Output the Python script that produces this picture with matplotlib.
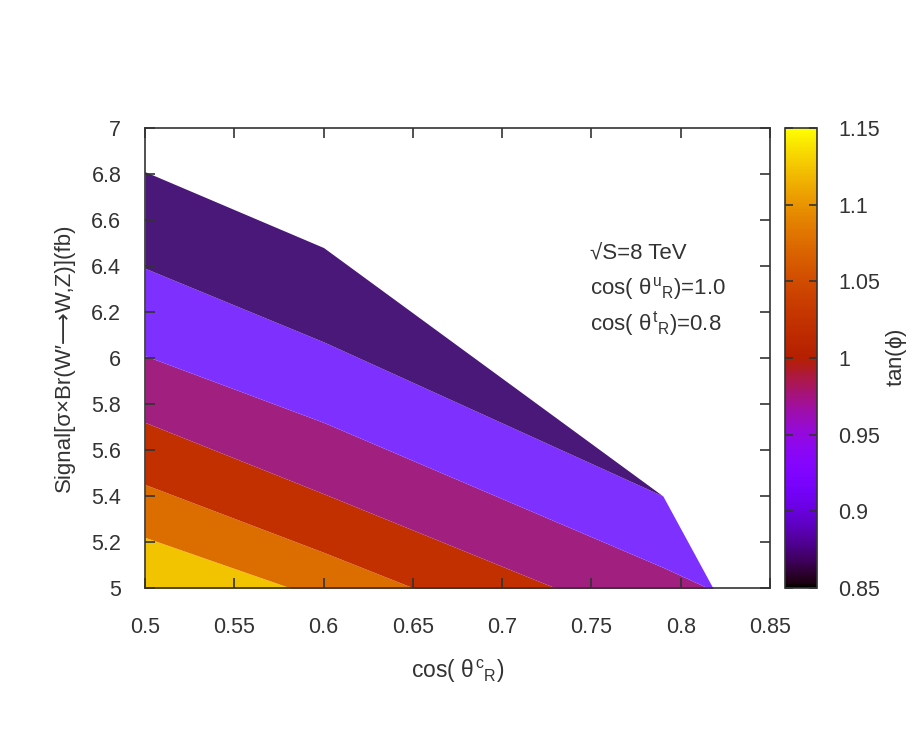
import numpy as np
import matplotlib
matplotlib.use("Agg")
import matplotlib.pyplot as plt
from matplotlib.colors import ListedColormap, Normalize
from matplotlib.cm import ScalarMappable
from matplotlib.ticker import FuncFormatter

plt.rcParams['font.family'] = ['Liberation Sans', 'DejaVu Sans']
plt.rcParams['mathtext.fontset'] = 'custom'
plt.rcParams['mathtext.rm'] = 'Liberation Sans'
plt.rcParams['mathtext.it'] = 'Liberation Sans'
plt.rcParams['mathtext.bf'] = 'Liberation Sans:bold'

# x nodes (cos theta^c_R) where the contour lines bend
x_nodes = [0.5, 0.6, 0.79, 0.818]
# upper edge of the data region
top_edge = [6.81, 6.48, 5.40, 5.00]
# contour lines of tan(phi), read at x_nodes
lvl_090 = [6.39, 6.07, 5.40, 5.00]
lvl_095 = [6.01, 5.72, 5.09, 4.99]
lvl_100 = [5.72, 5.41, 4.81, 4.72]
lvl_105 = [5.45, 5.155, 4.57, 4.48]
lvl_110 = [5.22, 4.95, 4.44, 4.36]
bottom_edge = [4.0, 4.0, 4.0, 4.0]

levels = [0.85, 0.9, 0.95, 1.0, 1.05, 1.1, 1.15]
# fill colours of the bands, lowest (yellow) first
band_colors = ['#f2c400', '#dc6e00', '#c23000', '#a1207f', '#7d30ff', '#4a1878']

# gnuplot rgbformulae 7,5,15 for the colour box
t = np.linspace(0, 1, 256)
pal = np.column_stack([np.sqrt(t), t ** 3, np.clip(np.sin(2 * np.pi * t), 0, 1)])
cmap = ListedColormap(pal)
norm = Normalize(0.85, 1.15)

txt = '#333333'
fig = plt.figure(figsize=(9.13, 7.47), dpi=100)
ax = fig.add_axes([0.1588, 0.2129, 0.6846, 0.6158])

xs = np.array(x_nodes)
top = np.array(top_edge)
bounds = [bottom_edge, lvl_110, lvl_105, lvl_100, lvl_095, lvl_090, top_edge]
for i in range(6):
    lo = np.minimum(np.array(bounds[i]), top)
    hi = np.minimum(np.array(bounds[i + 1]), top)
    ax.fill_between(xs, lo, hi, color=band_colors[i], lw=0)

ax.set_xlim(0.5, 0.85)
ax.set_ylim(5, 7)
ax.set_xticks(np.arange(0.5, 0.851, 0.05))
ax.set_yticks(np.arange(5, 7.01, 0.2))
fmt = FuncFormatter(lambda v, p: ('%.2f' % v).rstrip('0').rstrip('.'))
ax.xaxis.set_major_formatter(fmt)
ax.yaxis.set_major_formatter(fmt)
ax.tick_params(direction='in', top=True, right=True, length=7, width=1.2, labelsize=15.5, colors=txt)
ax.tick_params(axis='x', pad=21)
ax.tick_params(axis='y', pad=17)
for s in ax.spines.values():
    s.set_color(txt)
    s.set_linewidth(1.2)

ax.set_xlabel(r'cos( $\theta^{c}{}_{R}$)', fontsize=16.5, color=txt, labelpad=14)
ax.set_ylabel('Signal[\u03c3\u00d7Br(W\u2032\u27f6W,Z)](fb)',
              fontsize=16, color=txt, labelpad=12)

ax.text(0.749, 6.45, '\u221aS=8 TeV', fontsize=16, color=txt, va='center')
ax.text(0.749, 6.30, r'cos( $\theta^{u}{}_{R}$)=1.0', fontsize=16, color=txt, va='center')
ax.text(0.749, 6.15, r'cos( $\theta^{t}{}_{R}$)=0.8', fontsize=16, color=txt, va='center')

cax = fig.add_axes([0.86, 0.2129, 0.035, 0.6158])
cb = fig.colorbar(ScalarMappable(norm=norm, cmap=cmap), cax=cax, ticks=levels)
cb.ax.yaxis.set_major_formatter(fmt)
cb.ax.tick_params(direction='in', length=6, width=1.2, labelsize=15.5, pad=15, colors=txt, left=True, right=True)
cb.outline.set_edgecolor(txt)
cb.outline.set_linewidth(1.2)
cb.set_label(r'tan($\phi$)', fontsize=16, color=txt, labelpad=3)

fig.savefig('out.png', dpi=100)
